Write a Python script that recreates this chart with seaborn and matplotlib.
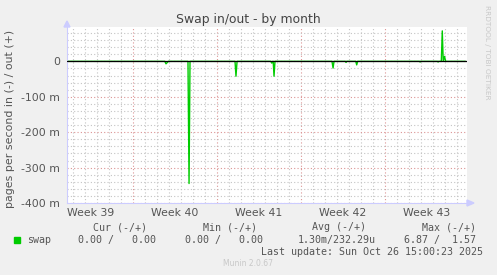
import matplotlib
matplotlib.use("Agg")
import matplotlib.pyplot as plt
import matplotlib.ticker as mticker
import seaborn as sns
import pandas as pd

# ---- data (days relative to start of Week 39; values in pages/s) ----
t_days = [-5.5, 2.65, 2.75, 2.95, 4.58, 4.67, 4.75, 8.5, 8.58, 8.67,
          11.48, 11.56, 11.64, 11.68, 11.75, 11.83, 16.58, 16.67, 16.75,
          17.7, 17.75, 17.8, 18.56, 18.64, 18.72, 23.88, 23.92, 23.96,
          25.38, 25.42, 25.46, 25.69, 25.77, 25.85, 25.96, 26.05, 27.7]
swap_vals = [0, 0, -0.007, 0, 0, -0.345, 0, 0, -0.042, 0,
             0, -0.005, 0, 0, -0.042, 0, 0, -0.019, 0,
             0, -0.003, 0, 0, -0.010, 0, 0, -0.002, 0,
             0, -0.002, 0, 0, 0.086, 0, 0.014, 0, 0]
week_labels = ["Week 39", "Week 40", "Week 41", "Week 42", "Week 43"]
week_label_pos = [-3.5, 3.5, 10.5, 17.5, 24.5]
week_starts = [0, 7, 14, 21]
legend_headers = ["Cur (-/+)", "Min (-/+)", "Avg (-/+)", "Max (-/+)"]
legend_values = ["0.00 /   0.00", "0.00 /   0.00", "1.30m/232.29u", "6.87 /  1.57"]

df = pd.DataFrame({"t": t_days, "swap": swap_vals})

sns.set_theme(style="white")
plt.rcParams["font.family"] = ["DejaVu Sans"]

W, H = 497, 275
fig = plt.figure(figsize=(W / 100, H / 100), dpi=100, facecolor="#f0f0f0")
ax = fig.add_axes([67 / W, (H - 203) / H, 400 / W, 176 / H])
ax.set_facecolor("white")

ax.set_xlim(-5.5, 27.83)
ax.set_ylim(-0.4, 0.097)

# grids
ax.xaxis.set_major_locator(mticker.FixedLocator(week_starts))
ax.xaxis.set_minor_locator(mticker.MultipleLocator(1))
ax.yaxis.set_major_locator(mticker.MultipleLocator(0.1))
ax.yaxis.set_minor_locator(mticker.MultipleLocator(0.02))
ax.grid(which="minor", color="#c4c4c4", linestyle=(0, (1, 2)), linewidth=0.8)
ax.grid(which="major", color="#dc9494", linestyle=(0, (1, 2)), linewidth=0.8)
ax.set_axisbelow(True)

def yfmt(v, pos):
    if abs(v) < 1e-9:
        return "0"
    return f"{v*1000:.0f} m"

ax.yaxis.set_major_formatter(mticker.FuncFormatter(yfmt))
ax.xaxis.set_major_formatter(mticker.NullFormatter())
ax.tick_params(axis="y", which="major", labelsize=7.8, labelcolor="#555555",
               length=2, color="#a0a0a0", pad=3)
ax.tick_params(axis="y", which="minor", length=1.5, color="#c0c0c0")
ax.tick_params(axis="x", which="major", length=2, color="#e08080", direction="in")
ax.tick_params(axis="x", which="minor", length=1.5, color="#c0c0c0", direction="in")

for s in ["top", "right"]:
    ax.spines[s].set_visible(False)
for s in ["left", "bottom"]:
    ax.spines[s].set_color("#ccccff")
    ax.spines[s].set_linewidth(0.8)

xt = ax.get_xaxis_transform()
for pos, lab in zip(week_label_pos, week_labels):
    ax.text(pos, -0.03, lab, transform=xt, ha="center", va="top",
            fontsize=7.8, color="#555555")

# data
sns.lineplot(data=df, x="t", y="swap", ax=ax, color="#00cc00", linewidth=1.0,
             legend=False)
ax.axhline(0, color="black", linewidth=0.9, zorder=3)
ax.set_xlabel("")
ax.set_ylabel("")

# arrows on axes
fig.patches.append(plt.Polygon([[467 / W, (H - 203 - 3) / H], [467 / W, (H - 203 + 3) / H],
                                [474 / W, (H - 203) / H]], closed=True,
                               transform=fig.transFigure, color="#ccccff"))
fig.patches.append(plt.Polygon([[64 / W, (H - 27) / H], [70 / W, (H - 27) / H],
                                [67 / W, (H - 21) / H]], closed=True,
                               transform=fig.transFigure, color="#ccccff"))

# texts
fig.text(248 / W, 1 - 19 / H, "Swap in/out - by month", ha="center", va="center",
         fontsize=8.9, color="#444444")
fig.text(10 / W, 1 - 119 / H, "pages per second in (-) / out (+)", rotation=90,
         ha="center", va="center", fontsize=7.9, color="#555555")
fig.text(487 / W, 1 - 5 / H, "RRDTOOL / TOBI OETIKER", rotation=270, ha="center",
         va="top", fontsize=5.3, color="#c8c8c8")

mono = "DejaVu Sans Mono"
hdr_x = [147, 257, 366, 476]
val_x = [156, 263, 376, 476]
for hx, h in zip(hdr_x, legend_headers):
    fig.text(hx / W, 1 - 227 / H, h, ha="right", va="center", family=mono,
             fontsize=7.2, color="#555555")
for vx, v in zip(val_x, legend_values):
    fig.text(vx / W, 1 - 240 / H, v, ha="right", va="center", family=mono,
             fontsize=7.2, color="#555555")
fig.patches.append(plt.Rectangle((14 / W, 1 - 243 / H), 6 / W, 6 / H,
                                 transform=fig.transFigure, color="#00cc00"))
fig.text(27 / W, 1 - 240 / H, "swap", ha="left", va="center", family=mono,
         fontsize=7.2, color="#555555")
fig.text(483 / W, 1 - 252 / H, "Last update: Sun Oct 26 15:00:23 2025", ha="right",
         va="center", family=mono, fontsize=7.2, color="#555555")
fig.text(248 / W, 1 - 264 / H, "Munin 2.0.67", ha="center", va="center",
         fontsize=5.5, color="#c8c8c8")

fig.savefig("out.png", dpi=100, facecolor=fig.get_facecolor())
